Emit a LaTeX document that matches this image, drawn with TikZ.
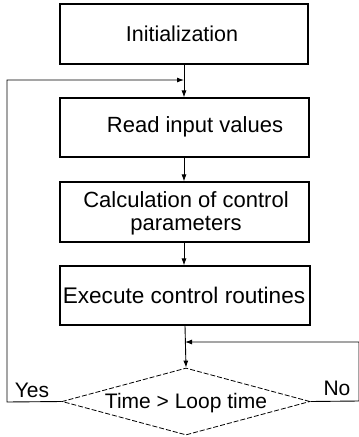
\documentclass[tikz,border=0pt]{standalone}
\usepackage{fontspec}
\setmainfont{Liberation Sans}
\usetikzlibrary{shapes.geometric,arrows.meta}
\begin{document}
\begin{tikzpicture}[x=1pt,y=-1pt,
  every node/.style={font=\fontsize{21}{25}\selectfont},
  boxtext/.style={font=\fontsize{22}{23}\selectfont,align=center},
  procbox/.style={draw,line width=1.1pt,inner sep=0pt},
  decision/.style={draw,dashed,dash pattern=on 5pt off 2pt,line width=0.8pt,diamond,aspect=3.7,inner sep=0pt,minimum width=248pt,minimum height=67pt},
  conn/.style={line width=0.9pt},
  arr/.style={conn,-{Latex[length=7pt,width=5pt]}}]
\useasboundingbox (0,0) rectangle (359,437);
\node[procbox,minimum width=248pt,minimum height=60pt] (init) at (184,34) {};
\node[boxtext,font=\fontsize{21.5}{23}\selectfont] (tinit) at (182,34) {Initialization};
\node[procbox,minimum width=249pt,minimum height=59pt] (read) at (184.5,127.5) {};
\node[boxtext] (tread) at (195,127) {Read input values};
\node[procbox,minimum width=249pt,minimum height=60pt] (calc) at (184.5,212) {};
\node[boxtext] (tcalc) at (186,213) {Calculation of control\\parameters};
\node[procbox,minimum width=250pt,minimum height=59pt] (exec) at (185,295.5) {};
\node[boxtext,font=\fontsize{22.6}{23}\selectfont] (texec) at (184,295) {Execute control routines};
\node[decision] (dec) at (186,401.5) {};
\node (tdec) at (186,403) {Time > Loop time};
\node (yes) at (32,390) {Yes};
\node (no) at (337,388) {No};
\coordinate (j1) at (184,80);
\coordinate (j2) at (185,342);
\coordinate (yl) at (7,402);
\coordinate (nr) at (359,401);
\draw[arr] (init.south -| j1) -- (read.north -| j1);
\draw[arr] (read.south -| j1) -- (calc.north -| j1);
\draw[arr] (calc.south -| j1) -- (exec.north -| j1);
\draw[arr] (exec.south -| j2) -- (dec.north);
\draw[arr] (dec.west) -- (yl) -- (yl |- j1) -- (j1);
\draw[arr] (dec.east) -- (nr) -- (nr |- j2) -- (j2);
\end{tikzpicture}
\end{document}
